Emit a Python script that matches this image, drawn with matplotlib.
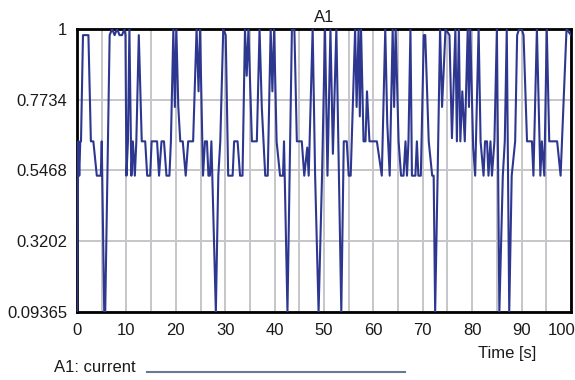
import matplotlib.pyplot as plt
from matplotlib.lines import Line2D
from matplotlib.transforms import ScaledTranslation

plt.rcParams["font.family"] = ["Liberation Sans", "DejaVu Sans"]

# signal (time in s, value)
time_s = [
    0.0, 0.25, 0.45, 0.65, 0.8, 1.2, 2.3, 2.8, 3.3, 4.0, 4.8, 5.0, 5.5, 5.7, 6.6,
    7.1, 7.6, 8.1, 8.6, 9.1, 9.6, 9.8, 10.0, 10.3, 10.6, 11.0, 11.3, 11.7, 12.0,
    12.5, 13.1, 13.8, 14.2, 14.8, 15.1, 16.2, 16.6, 17.1, 17.6, 18.1, 18.7, 19.0,
    19.5, 19.8, 20.1, 20.5, 20.9, 21.4, 22.0, 22.5, 23.5, 24.2, 24.6, 24.9, 25.5,
    25.9, 26.3, 26.6, 26.9, 27.2, 28.1, 28.6, 29.0, 29.6, 30.1, 30.6,
    31.5, 31.8, 32.5, 33.0, 33.5, 34.0, 34.35, 34.7, 35.4, 36.4, 36.95, 37.4,
    38.1, 38.6, 39.2, 39.55, 39.9, 40.4, 41.1, 41.7, 41.9, 42.6,
    43.5, 44.0, 44.5, 45.5, 46.0, 46.6, 46.9, 47.7, 48.2, 48.9, 49.6, 50.2,
    50.7, 51.3, 51.8, 52.5, 53.5, 54.0, 54.6, 55.0, 55.4, 56.3, 56.6, 57.0,
    57.25, 57.5, 58.0, 58.4, 58.7, 59.2, 59.7, 60.7, 61.7, 62.4, 62.8, 63.3,
    63.9, 64.2, 64.5, 65.1, 65.6, 66.1, 66.5, 66.8, 67.1, 67.5, 67.8, 68.5,
    68.8, 69.1, 69.6, 70.2, 70.5, 71.2, 71.9, 72.2, 72.5, 73.0, 73.5, 73.9,
    74.6, 75.4, 75.9, 76.6, 76.9, 77.3, 77.6, 78.0, 78.5, 79.1, 79.35, 79.6,
    80.2, 80.6, 81.3, 81.7, 82.3, 82.6, 83.0, 83.3, 83.7, 84.0, 84.5, 85.0,
    85.5, 86.2, 86.6, 87.0, 87.5, 88.0, 88.7, 89.1, 89.5, 90.0, 90.4, 91.1,
    92.1, 92.4, 93.1, 93.8, 94.1, 94.6, 95.1, 95.6, 96.2, 97.2, 97.9, 99.1,
    100.0,
]
current = [
    0.094, 0.64, 0.53, 0.64, 0.64, 0.98, 0.98, 0.64, 0.64, 0.53, 0.53, 0.64,
    0.094, 0.094, 0.98, 1.0, 0.98, 1.0, 0.98, 0.98, 1.0, 0.98, 0.53, 0.64,
    1.0, 0.53, 0.64, 0.53, 0.64, 0.98, 0.64, 0.64, 0.53, 0.53, 0.64, 0.64,
    0.53, 0.64, 0.64, 0.53, 0.53, 0.64, 1.0, 0.75, 1.0, 0.75, 0.64, 0.64,
    0.53, 0.64, 0.64, 1.0, 0.8, 1.0, 0.53, 0.64, 0.64, 0.53, 0.53, 0.64,
    0.094, 0.53, 0.64, 1.0, 0.98, 0.53,
    0.53, 0.64, 0.64, 0.53, 0.53, 1.0, 0.85, 1.0, 0.64, 0.64, 1.0, 0.75,
    0.53, 0.53, 1.0, 0.8, 1.0, 0.64, 0.53, 0.53, 0.64, 0.094,
    1.0, 1.0, 0.64, 0.64, 0.53, 0.62, 0.53, 1.0, 0.53, 0.094, 0.53, 1.0,
    0.53, 1.0, 0.6, 1.0, 0.094, 0.64, 0.64, 0.53, 0.53, 1.0, 0.75, 1.0,
    0.72, 1.0, 0.64, 0.64, 0.8, 0.64, 0.64, 0.64, 0.53, 1.0, 0.7, 0.53,
    1.0, 0.75, 1.0, 0.64, 0.53, 0.53, 0.64, 0.53, 0.64, 1.0, 0.53, 0.53,
    0.64, 0.53, 0.53, 0.98, 0.98, 0.64, 0.53, 0.53, 0.094, 0.53, 1.0, 0.75,
    1.0, 0.98, 0.65, 1.0, 0.64, 1.0, 0.64, 0.8, 0.64, 1.0, 0.75, 1.0,
    0.62, 0.53, 1.0, 0.64, 0.53, 0.64, 0.64, 0.53, 0.64, 0.53, 0.64, 1.0,
    0.094, 0.53, 0.64, 1.0, 0.094, 0.53, 0.64, 0.98, 1.0, 1.0, 0.98, 0.64,
    0.64, 0.53, 1.0, 0.53, 0.64, 0.53, 1.0, 0.64, 0.64, 0.64, 0.53, 1.0,
    0.98,
]

y_ticks = [0.09365, 0.3202, 0.5468, 0.7734, 1.0]
y_tick_labels = ["0.09365", "0.3202", "0.5468", "0.7734", "1"]
x_ticks = list(range(0, 101, 10))
x_grid = list(range(0, 101, 5))

fig = plt.figure(figsize=(5.75, 3.8), dpi=100)
ax = fig.add_axes([0.134, 0.179, 0.859, 0.745])

ax.plot(time_s, current, color="#2e3790", lw=1.5, zorder=3)

ax.set_xlim(0, 100)
ax.set_ylim(0.09365, 1.0)
ax.set_xticks(x_ticks)
ax.set_xticks(x_grid, minor=True)
ax.set_yticks(y_ticks)
ax.set_yticklabels(y_tick_labels)
ax.grid(True, which="both", axis="x", color="#c6c6ca", lw=1.4)
ax.grid(True, axis="y", color="#c6c6ca", lw=1.4)
ax.set_axisbelow(True)
ax.tick_params(which="both", length=0, labelsize=12, colors="#1a1a1a")
ax.tick_params(axis="x", pad=8)
ax.tick_params(axis="y", pad=7)

for side in ax.spines.values():
    side.set_linewidth(2)
    side.set_color("black")

# keep "100" inside the figure like the original
last = ax.get_xticklabels()[-1]
last.set_transform(last.get_transform() + ScaledTranslation(-0.09, 0, fig.dpi_scale_trans))

ax.set_title("A1", fontsize=12, color="#1a1a1a", pad=5)
fig.text(0.8826, 0.071, "Time [s]", fontsize=12, color="#1a1a1a", ha="center", va="center")

# legend row at the bottom
fig.text(0.094, 0.032, "A1: current", fontsize=12, color="#1a1a1a", ha="left", va="center")
fig.add_artist(Line2D([0.255, 0.704], [0.021, 0.021], color="#6b7799", lw=1.5))

fig.savefig("out.png", dpi=100)
